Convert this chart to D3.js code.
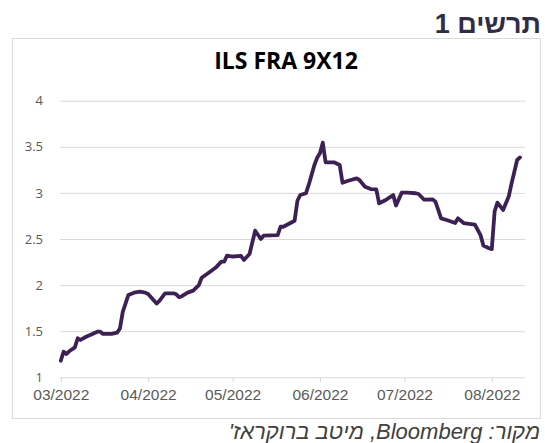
<!DOCTYPE html>
<html><head><meta charset="utf-8">
<script src="https://cdn.jsdelivr.net/npm/d3@7"></script>
<style>body{margin:0;background:#fff}svg{display:block}</style>
</head><body>
<script>
const dates = ["2022-03-01","2022-03-02","2022-03-03","2022-03-04","2022-03-06","2022-03-07","2022-03-08","2022-03-10","2022-03-12","2022-03-14","2022-03-15","2022-03-16","2022-03-19","2022-03-21","2022-03-22","2022-03-23","2022-03-25","2022-03-27","2022-03-29","2022-03-31","2022-04-01","2022-04-04","2022-04-05","2022-04-07","2022-04-10","2022-04-11","2022-04-12","2022-04-13","2022-04-15","2022-04-17","2022-04-19","2022-04-20","2022-04-23","2022-04-25","2022-04-27","2022-04-28","2022-04-29","2022-05-01","2022-05-04","2022-05-05","2022-05-07","2022-05-09","2022-05-11","2022-05-12","2022-05-17","2022-05-18","2022-05-19","2022-05-23","2022-05-24","2022-05-25","2022-05-27","2022-05-28","2022-05-30","2022-05-31","2022-06-01","2022-06-02","2022-06-03","2022-06-06","2022-06-08","2022-06-09","2022-06-11","2022-06-14","2022-06-15","2022-06-17","2022-06-19","2022-06-21","2022-06-22","2022-06-24","2022-06-27","2022-06-28","2022-06-30","2022-07-02","2022-07-05","2022-07-06","2022-07-08","2022-07-11","2022-07-12","2022-07-14","2022-07-16","2022-07-19","2022-07-20","2022-07-22","2022-07-24","2022-07-26","2022-07-28","2022-07-29","2022-07-31","2022-08-01","2022-08-02","2022-08-03","2022-08-05","2022-08-07","2022-08-08","2022-08-10","2022-08-11"];
const values = [1.18,1.278,1.253,1.282,1.325,1.423,1.405,1.44,1.466,1.495,1.495,1.47,1.47,1.484,1.53,1.71,1.893,1.918,1.928,1.918,1.903,1.80,1.83,1.911,1.911,1.90,1.868,1.88,1.918,1.94,2.0,2.08,2.145,2.19,2.254,2.254,2.32,2.31,2.316,2.272,2.337,2.59,2.5,2.536,2.543,2.633,2.633,2.698,2.915,2.977,2.996,3.086,3.30,3.38,3.43,3.545,3.332,3.332,3.303,3.11,3.132,3.158,3.14,3.067,3.042,3.039,2.887,2.917,2.977,2.863,3.002,3.002,2.996,2.988,2.926,2.93,2.905,2.724,2.706,2.673,2.724,2.673,2.663,2.657,2.543,2.43,2.40,2.39,2.80,2.894,2.815,2.96,3.10,3.357,3.385];
const yTicks = [1,1.5,2,2.5,3,3.5,4];
const xTickLabels = ["03/2022","04/2022","05/2022","06/2022","07/2022","08/2022"];
const xTickDates = ["2022-03-01","2022-04-01","2022-05-01","2022-06-01","2022-07-01","2022-08-01"];
const figTitle = "תרשים 1";
const chartTitle = "ILS FRA 9X12";
const sourceText = "מקור: Bloomberg, מיטב ברוקראז'";

const parse = d3.timeParse("%Y-%m-%d");
const data = dates.map((d,i)=>({date:parse(d), v:values[i]}));

const W=545,H=443;
const svg = d3.select("body").append("svg").attr("width",W).attr("height",H);

const x = d3.scaleTime().domain([parse("2022-03-01"),parse("2022-08-01")]).range([60.8,491.8]);
const y = d3.scaleLinear().domain([1,4]).range([377.3,100.7]);
const plotL=60, plotR=525;

svg.append("text").attr("x",541).attr("y",33).attr("direction","rtl").attr("text-anchor","start")
  .style("font-family","Liberation Sans, Arial, sans-serif").style("font-weight","bold").style("font-size","27px")
  .attr("fill","#302c44").text(figTitle);

svg.append("rect").attr("x",12.5).attr("y",38.5).attr("width",528).attr("height",380)
  .attr("fill","#fff").attr("stroke","#d9d9d9");

svg.append("text").attr("x",286).attr("y",69).attr("text-anchor","middle")
  .style("font-family","Open Sans, sans-serif").style("font-weight","bold").style("font-size","23px")
  .attr("fill","#000").text(chartTitle);

// gridlines
const yAxis = d3.axisLeft(y).tickValues(yTicks).tickSize(-(plotR-plotL)).tickPadding(17).tickFormat(d3.format("~g"));
const gy = svg.append("g").attr("transform",`translate(${plotL},0)`).call(yAxis);
gy.select(".domain").remove();
gy.selectAll(".tick line").attr("stroke","#d9d9d9").attr("stroke-width",1)
  .each(function(d){ if(d===1) d3.select(this).remove(); });
gy.selectAll(".tick text").attr("fill","#595959").style("font-family","Open Sans, sans-serif").style("font-size","13px");

// x axis
const xAxis = d3.axisBottom(x).tickValues(xTickDates.map(parse)).tickSize(5).tickPadding(7)
  .tickFormat((d,i)=>xTickLabels[i]);
const gx = svg.append("g").attr("transform",`translate(0,${y(1)})`).call(xAxis);
gx.select(".domain").attr("d",`M${plotL},0.5H${plotR}`).attr("stroke","#d9d9d9");
gx.selectAll(".tick line").attr("stroke","#d9d9d9");
gx.selectAll(".tick text").attr("fill","#595959").style("font-family","Liberation Sans, Arial, sans-serif").style("font-size","15.5px");

const line = d3.line().x(d=>x(d.date)).y(d=>y(d.v));
svg.append("path").datum(data).attr("d",line).attr("fill","none")
  .attr("stroke","#3d2155").attr("stroke-width",3.8).attr("stroke-linejoin","round").attr("stroke-linecap","round");

svg.append("text").attr("x",540).attr("y",439).attr("direction","rtl").attr("text-anchor","start")
  .style("font-family","Liberation Sans, Arial, sans-serif").style("font-style","italic").style("font-size","22px")
  .attr("fill","#404040").text(sourceText);
</script>
</body></html>
